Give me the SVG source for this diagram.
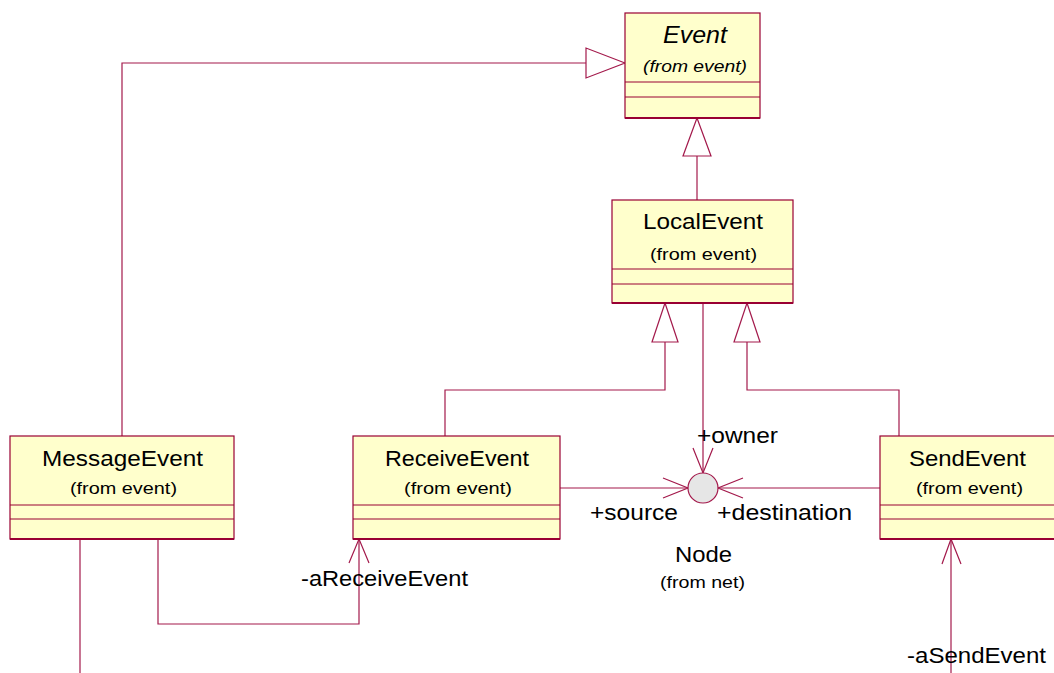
<svg xmlns="http://www.w3.org/2000/svg" width="1054" height="673" viewBox="0 0 1054 673">
<style>
.box{fill:#FFFFCC;stroke:#990033;stroke-width:1.2}
.sep{stroke:#990033;stroke-width:1}
.bot{stroke:#990033;stroke-width:2}
.ln{fill:none;stroke:#A3194B;stroke-width:1.2}
.tri{fill:#FFFFFF;stroke:#A3194B;stroke-width:1.2}
.t{font-family:"Liberation Sans",Arial,sans-serif;fill:#000}
.title{font-size:22px}
.sub{font-size:16px}
.lbl{font-size:22px}
.it{font-style:italic}
</style>
<rect width="1054" height="673" fill="#FFFFFF"/>
<g id="connectors">
  <!-- MessageEvent -> Event generalization -->
  <polyline class="ln" points="122,436 122,63 586,63"/>
  <polygon class="tri" points="625,63 586,48 586,78"/>
  <!-- LocalEvent -> Event -->
  <line class="ln" x1="697" y1="200" x2="697" y2="156"/>
  <polygon class="tri" points="697,118 683,156 711,156"/>
  <!-- ReceiveEvent -> LocalEvent -->
  <polyline class="ln" points="445,436 445,390 665,390 665,342"/>
  <polygon class="tri" points="665,303 652,342 678,342"/>
  <!-- SendEvent -> LocalEvent -->
  <polyline class="ln" points="899,436 899,390 747,390 747,342"/>
  <polygon class="tri" points="747,303 734,342 760,342"/>
  <!-- LocalEvent -> Node (owner) -->
  <line class="ln" x1="703" y1="303" x2="703" y2="473"/>
  <polyline class="ln" points="693,448 703,473 713,448"/>
  <!-- ReceiveEvent -> Node (source) -->
  <line class="ln" x1="560" y1="488" x2="688" y2="488"/>
  <polyline class="ln" points="663,478 688,488 663,498"/>
  <!-- SendEvent -> Node (destination) -->
  <line class="ln" x1="880" y1="488" x2="718" y2="488"/>
  <polyline class="ln" points="743,478 718,488 743,498"/>
  <!-- MessageEvent -> ReceiveEvent -->
  <polyline class="ln" points="158,539 158,624 359,624 359,539"/>
  <polyline class="ln" points="349,563 359,539 369,563"/>
  <!-- MessageEvent down -->
  <line class="ln" x1="80" y1="539" x2="80" y2="673"/>
  <!-- SendEvent association -->
  <line class="ln" x1="951" y1="539" x2="951" y2="673"/>
  <polyline class="ln" points="942,564 951,539 961,564"/>
  <text class="t lbl" x="697" y="443" textLength="81" lengthAdjust="spacingAndGlyphs">+owner</text>
  <text class="t lbl" x="590" y="520" textLength="88" lengthAdjust="spacingAndGlyphs">+source</text>
  <text class="t lbl" x="717" y="520" textLength="135" lengthAdjust="spacingAndGlyphs">+destination</text>
  <text class="t lbl" x="301" y="586" textLength="167" lengthAdjust="spacingAndGlyphs">-aReceiveEvent</text>
  <text class="t lbl" x="907" y="663" textLength="139" lengthAdjust="spacingAndGlyphs">-aSendEvent</text>
</g>
<g id="Event">
  <rect class="box" x="625" y="13" width="135" height="105"/>
  <line class="sep" x1="625" y1="82" x2="760" y2="82"/>
  <line class="sep" x1="625" y1="97" x2="760" y2="97"/>
  <line class="bot" x1="625" y1="118" x2="760" y2="118"/>
  <text class="t it" style="font-size:23px" x="663" y="43" textLength="64" lengthAdjust="spacingAndGlyphs">Event</text>
  <text class="t sub it" x="643" y="72" textLength="104" lengthAdjust="spacingAndGlyphs">(from event)</text>
</g>
<g id="LocalEvent">
  <rect class="box" x="612" y="200" width="181" height="103"/>
  <line class="sep" x1="612" y1="269" x2="793" y2="269"/>
  <line class="sep" x1="612" y1="284" x2="793" y2="284"/>
  <line class="bot" x1="612" y1="303" x2="793" y2="303"/>
  <text class="t title" x="643" y="229" textLength="120" lengthAdjust="spacingAndGlyphs">LocalEvent</text>
  <text class="t sub" x="650" y="260" textLength="107" lengthAdjust="spacingAndGlyphs">(from event)</text>
</g>
<g id="MessageEvent">
  <rect class="box" x="10" y="436" width="224" height="103"/>
  <line class="sep" x1="10" y1="505" x2="234" y2="505"/>
  <line class="sep" x1="10" y1="519" x2="234" y2="519"/>
  <line class="bot" x1="10" y1="539" x2="234" y2="539"/>
  <text class="t title" x="42" y="466" textLength="161" lengthAdjust="spacingAndGlyphs">MessageEvent</text>
  <text class="t sub" x="70" y="494" textLength="107" lengthAdjust="spacingAndGlyphs">(from event)</text>
</g>
<g id="ReceiveEvent">
  <rect class="box" x="353" y="436" width="207" height="103"/>
  <line class="sep" x1="353" y1="505" x2="560" y2="505"/>
  <line class="sep" x1="353" y1="519" x2="560" y2="519"/>
  <line class="bot" x1="353" y1="539" x2="560" y2="539"/>
  <text class="t title" x="385" y="466" textLength="144" lengthAdjust="spacingAndGlyphs">ReceiveEvent</text>
  <text class="t sub" x="404" y="494" textLength="108" lengthAdjust="spacingAndGlyphs">(from event)</text>
</g>
<g id="SendEvent">
  <rect class="box" x="880" y="436" width="180" height="103"/>
  <line class="sep" x1="880" y1="505" x2="1060" y2="505"/>
  <line class="sep" x1="880" y1="519" x2="1060" y2="519"/>
  <line class="bot" x1="880" y1="539" x2="1060" y2="539"/>
  <text class="t title" x="909" y="466" textLength="117" lengthAdjust="spacingAndGlyphs">SendEvent</text>
  <text class="t sub" x="916" y="494" textLength="107" lengthAdjust="spacingAndGlyphs">(from event)</text>
</g>
<g id="Node">
  <circle cx="703" cy="488" r="15" fill="#E6E6E6" stroke="#A3194B" stroke-width="1.2"/>
  <text class="t lbl" x="675" y="562" textLength="57" lengthAdjust="spacingAndGlyphs">Node</text>
  <text class="t sub" x="660" y="588" textLength="85" lengthAdjust="spacingAndGlyphs">(from net)</text>
</g>
</svg>
